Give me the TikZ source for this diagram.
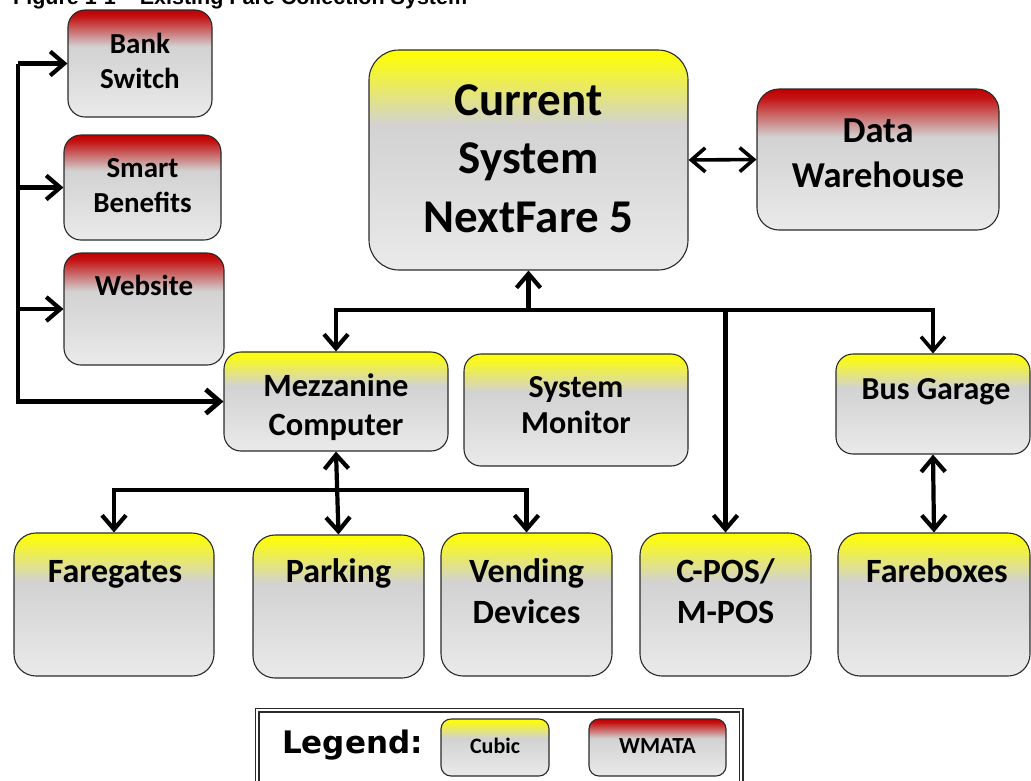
\documentclass[tikz,border=0pt]{standalone}
\usepackage{fontspec}
\setmainfont{Carlito}
\newfontfamily\titlefont{Liberation Sans}
\newfontfamily\legfont{DejaVu Sans}
\usetikzlibrary{arrows.meta}
\definecolor{lgray}{HTML}{EAEAEA}
\definecolor{mgray}{HTML}{D2D2D2}
\definecolor{ylw}{HTML}{FFFF00}
\definecolor{ylwb}{HTML}{F8F820}
\definecolor{rd}{HTML}{BE0000}
\definecolor{rdb}{HTML}{C41212}
\definecolor{edge}{HTML}{2A2A2A}
\pgfdeclareverticalshading{cubicsh}{100bp}{color(0bp)=(lgray); color(25bp)=(lgray); color(58bp)=(mgray); color(72bp)=(ylwb); color(75bp)=(ylw); color(100bp)=(ylw)}
\pgfdeclareverticalshading{wmatash}{100bp}{color(0bp)=(lgray); color(25bp)=(lgray); color(58bp)=(mgray); color(72bp)=(rdb); color(75bp)=(rd); color(100bp)=(rd)}
\newcommand\tl[1]{\begin{tabular}[t]{@{}c@{}}#1\end{tabular}}
\tikzset{
  unit/.style={draw=edge, line width=1.1pt, rounded corners=17pt, inner sep=0pt, shade},
  cubicbox/.style={unit, shading=cubicsh},
  wmatabox/.style={unit, shading=wmatash},
  lbl/.style={anchor=base, inner sep=0pt, font=\bfseries},
  conn/.style={line width=4.2pt, -{Straight Barb[length=14pt,width=24pt]}},
  dconn/.style={line width=4.2pt, {Straight Barb[length=14pt,width=24pt]}-{Straight Barb[length=14pt,width=24pt]}}
}
\begin{document}
\begin{tikzpicture}[x=1pt,y=-1pt]
\useasboundingbox (0,0) rectangle (1031,780);
\fill[white] (0,0) rectangle (1031,780);
\clip (0,0) rectangle (1031,780);

% title (cut at top, as in the reference)
\node[anchor=base west, inner sep=0pt, font=\titlefont\bfseries\fontsize{21.5}{24}\selectfont] (title) at (13,4.5) {Figure 1-1 – Existing Fare Collection System};

% boxes
\node[wmatabox, minimum width=144, minimum height=107] (bank) at (140,63.5) {};
\node[wmatabox, minimum width=157, minimum height=105] (smart) at (142.5,187.5) {};
\node[wmatabox, minimum width=160, minimum height=112] (web) at (144,309) {};
\node[cubicbox, minimum width=224, minimum height=99] (mezz) at (336,401.5) {};
\node[cubicbox, minimum width=224, minimum height=112] (mon) at (576,410) {};
\node[cubicbox, rounded corners=30pt, minimum width=319, minimum height=220] (cur) at (528.5,160) {};
\node[wmatabox, rounded corners=22pt, minimum width=242, minimum height=141] (dw) at (878,159.5) {};
\node[cubicbox, minimum width=194, minimum height=100] (bus) at (933,404) {};
\node[cubicbox, rounded corners=22pt, minimum width=192, minimum height=143] (fbx) at (934,604.5) {};
\node[cubicbox, rounded corners=22pt, minimum width=171, minimum height=143] (cpos) at (725.5,604.5) {};
\node[cubicbox, rounded corners=22pt, minimum width=200, minimum height=143] (fg) at (114,604.5) {};
\node[cubicbox, rounded corners=22pt, minimum width=171, minimum height=143] (park) at (338.5,606.5) {};
\node[cubicbox, rounded corners=22pt, minimum width=171, minimum height=143] (vend) at (526.5,604.5) {};

% labels
\node[lbl, font=\bfseries\fontsize{29}{35}\selectfont] (bankt) at (140,53) {\tl{Bank\\Switch}};
\node[lbl, font=\bfseries\fontsize{29}{35}\selectfont] (smartt) at (142.5,177) {\tl{Smart\\Benefits}};
\node[lbl, font=\bfseries\fontsize{29}{35}\selectfont] (webt) at (144,295) {Website};
\node[lbl, font=\bfseries\fontsize{32.5}{39}\selectfont] (mezzt) at (336,396) {\tl{Mezzanine\\Computer}};
\node[lbl, font=\bfseries\fontsize{32}{36}\selectfont] (mont) at (576,397) {\tl{System\\Monitor}};
\node[lbl, font=\bfseries\fontsize{47}{58.5}\selectfont] (curt) at (528.5,115) {\tl{Current\\System\\NextFare 5}};
\node[lbl, font=\bfseries\fontsize{36.5}{45}\selectfont] (dwt) at (878,142) {\tl{Data\\Warehouse}};
\node[lbl, font=\bfseries\fontsize{32}{41}\selectfont] (bust) at (936,399) {Bus Garage};
\node[lbl, font=\bfseries\fontsize{34}{41}\selectfont] (fbxt) at (937,582) {Fareboxes};
\node[lbl, font=\bfseries\fontsize{34}{41}\selectfont] (cpost) at (725.5,582) {\tl{C-POS/\\M-POS}};
\node[lbl, font=\bfseries\fontsize{34}{41}\selectfont] (fgt) at (115,582) {Faregates};
\node[lbl, font=\bfseries\fontsize{34}{41}\selectfont] (parkt) at (338.5,582) {Parking};
\node[lbl, font=\bfseries\fontsize{34}{41}\selectfont] (vendt) at (526.5,582) {\tl{Vending\\Devices}};

% left bus
\coordinate (lt) at (18,63.5);
\draw[conn] (lt) -- (bank.west);
\draw[conn, line width=4.8pt] (lt) |- (mezz.west);
\draw[conn] (lt |- smart.west) -- (smart.west);
\draw[conn] (lt |- web.west) -- (web.west);

% main bus
\coordinate (j2) at (528.5,310);
\draw[conn] (j2) -- (cur.south);
\draw[conn] (j2) -| (mezz.north);
\draw[conn] (j2) -| (cpos.north);
\draw[conn, line width=3.6pt] (j2) -| (bus.north);
\draw[dconn, line width=3.6pt] (cur.east) -- (dw.west);
\draw[dconn] (bus.south) -- (fbx.north);

% mezzanine bus
\coordinate (j1) at (336,490);
\draw[conn] (j1) -| (fg.north);
\draw[conn] (j1) -| (vend.north);
\draw[dconn] (mezz.south) -- (park.north);

% legend
\draw[double, double distance=2pt, line width=1.5pt, draw=edge] (257,710) rectangle (741,800);
\node[anchor=base west, inner sep=0pt, font=\legfont\bfseries\fontsize{31}{34}\selectfont] (legt) at (282,753) {Legend:};
\node[cubicbox, rounded corners=10pt, minimum width=108, minimum height=57] (lc) at (495,747.5) {};
\node[wmatabox, rounded corners=10pt, minimum width=137, minimum height=57] (lw) at (657.5,747.5) {};
\node[lbl, font=\bfseries\fontsize{22}{24}\selectfont] (lct) at (495,753) {Cubic};
\node[lbl, font=\bfseries\fontsize{23}{26}\selectfont] (lwt) at (657.5,753) {WMATA};
\end{tikzpicture}
\end{document}
